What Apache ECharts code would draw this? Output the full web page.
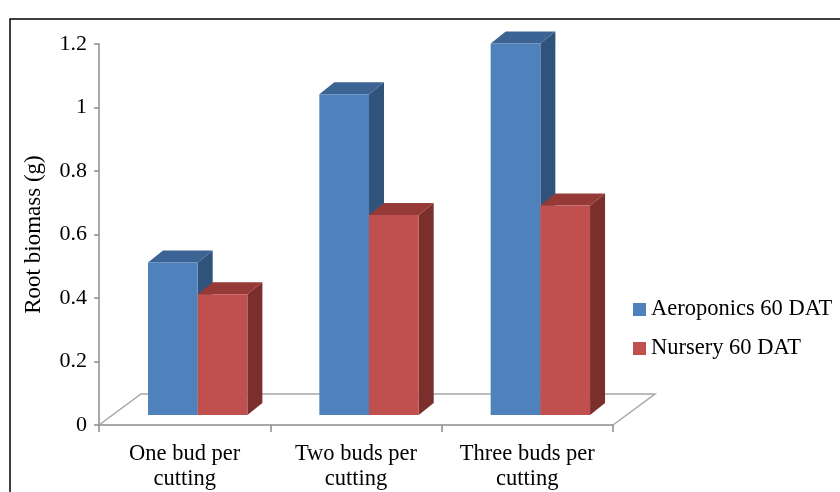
<!DOCTYPE html>
<html>
<head>
<meta charset="utf-8">
<script src="https://cdn.jsdelivr.net/npm/echarts@6/dist/echarts.min.js"></script>
<style>
  html, body { margin: 0; padding: 0; background: #fff; }
  #chart { width: 840px; height: 492px; }
</style>
</head>
<body>
<div id="chart"></div>
<script>
// Root biomass per cutting type, 60 days after transplanting
const categories = ['One bud per\ncutting', 'Two buds per\ncutting', 'Three buds per\ncutting'];
const aeroponics = [0.48, 1.01, 1.17];
const nursery = [0.38, 0.63, 0.66];
const seriesNames = ['Aeroponics 60 DAT', 'Nursery 60 DAT'];

const SERIF = '"Liberation Serif", "Times New Roman", serif';
const AXIS_GREY = '#8c8c8c';

// Face colours for the pseudo-3D columns: front, top, side
const palettes = [
  { front: '#4f81bd', top: '#3b6494', side: '#30537c' },
  { front: '#c0504d', top: '#953a37', side: '#7b2f2d' }
];

// Oblique projection offsets
const FLOOR_DEPTH = [42, -31];   // full floor depth
const BAR_SHIFT_Y = -10;         // bars stand part-way into the floor
const BAR_DEPTH = [15, -12];     // column depth

function makeBarRenderer(slot) {
  const pal = palettes[slot];
  return function (params, api) {
    const i = api.value(0);
    const v = api.value(1);
    const base = api.coord([i, 0]);
    const top = api.coord([i, v]);
    const band = api.size([1, 0])[0];
    const w = band * 0.29;
    const shiftX = band * 0.076;
    const left = base[0] + shiftX + (slot === 0 ? -w : 0);
    const yb = base[1] + BAR_SHIFT_Y;
    const yt = top[1] + BAR_SHIFT_Y;
    const dx = BAR_DEPTH[0], dy = BAR_DEPTH[1];
    return {
      type: 'group',
      children: [
        {
          type: 'polygon',
          shape: { points: [[left + w, yt], [left + w + dx, yt + dy], [left + w + dx, yb + dy], [left + w, yb]] },
          style: { fill: pal.side }
        },
        {
          type: 'polygon',
          shape: { points: [[left, yt], [left + dx, yt + dy], [left + w + dx, yt + dy], [left + w, yt]] },
          style: { fill: pal.top }
        },
        {
          type: 'rect',
          shape: { x: left, y: yt, width: w, height: yb - yt },
          style: { fill: pal.front }
        }
      ]
    };
  };
}

function renderFloor(params, api) {
  const band = api.size([1, 0])[0];
  const first = api.coord([0, 0]);
  const last = api.coord([categories.length - 1, 0]);
  const fl = [first[0] - band / 2, first[1]];
  const fr = [last[0] + band / 2, last[1]];
  const bl = [fl[0] + FLOOR_DEPTH[0], fl[1] + FLOOR_DEPTH[1]];
  const br = [fr[0] + FLOOR_DEPTH[0], fr[1] + FLOOR_DEPTH[1]];
  return {
    type: 'polyline',
    shape: { points: [fl, bl, br, fr] },
    style: { stroke: '#a6a6a6', lineWidth: 1.5, fill: null }
  };
}

const chart = echarts.init(document.getElementById('chart'), null, { renderer: 'canvas' });

chart.setOption({
  animation: false,
  backgroundColor: '#ffffff',
  graphic: [
    {
      type: 'rect',
      shape: { x: 10, y: 19, width: 840, height: 480 },
      style: { fill: null, stroke: '#000000', lineWidth: 1.5 },
      silent: true
    }
  ],
  grid: { left: 99, right: 227, top: 44, bottom: 67 },
  legend: {
    data: seriesNames,
    orient: 'vertical',
    left: 633,
    top: 298,
    padding: 0,
    itemWidth: 13,
    itemHeight: 13,
    itemGap: 16,
    icon: 'rect',
    textStyle: { fontFamily: SERIF, fontSize: 22.5, color: '#000' }
  },
  xAxis: {
    type: 'category',
    data: categories,
    axisLine: { show: true, lineStyle: { color: AXIS_GREY, width: 1.5 } },
    axisTick: { show: true, interval: 0, length: 7, lineStyle: { color: AXIS_GREY, width: 1.5 } },
    axisLabel: {
      interval: 0,
      hideOverlap: false,
      fontFamily: SERIF, fontSize: 22.5, color: '#000', lineHeight: 25, margin: 17
    },
    splitLine: { show: false }
  },
  yAxis: {
    type: 'value',
    min: 0,
    max: 1.2,
    interval: 0.2,
    name: 'Root biomass (g)',
    nameLocation: 'middle',
    nameGap: 54,
    nameTextStyle: { fontFamily: SERIF, fontSize: 23, color: '#000' },
    axisLine: { show: true, lineStyle: { color: AXIS_GREY, width: 1.5 } },
    axisTick: { show: true, length: 5, lineStyle: { color: AXIS_GREY, width: 1.5 } },
    axisLabel: { fontFamily: SERIF, fontSize: 22, color: '#000', margin: 12 },
    splitLine: { show: false }
  },
  series: [
    {
      name: 'floor',
      type: 'custom',
      silent: true,
      z: 1,
      renderItem: renderFloor,
      data: [[0, 0]],
      encode: { x: 0, y: 1 }
    },
    {
      name: seriesNames[0],
      type: 'custom',
      z: 2,
      itemStyle: { color: palettes[0].front },
      renderItem: makeBarRenderer(0),
      data: aeroponics.map((v, i) => [i, v]),
      encode: { x: 0, y: 1 }
    },
    {
      name: seriesNames[1],
      type: 'custom',
      z: 3,
      itemStyle: { color: palettes[1].front },
      renderItem: makeBarRenderer(1),
      data: nursery.map((v, i) => [i, v]),
      encode: { x: 0, y: 1 }
    }
  ]
});
</script>
</body>
</html>
